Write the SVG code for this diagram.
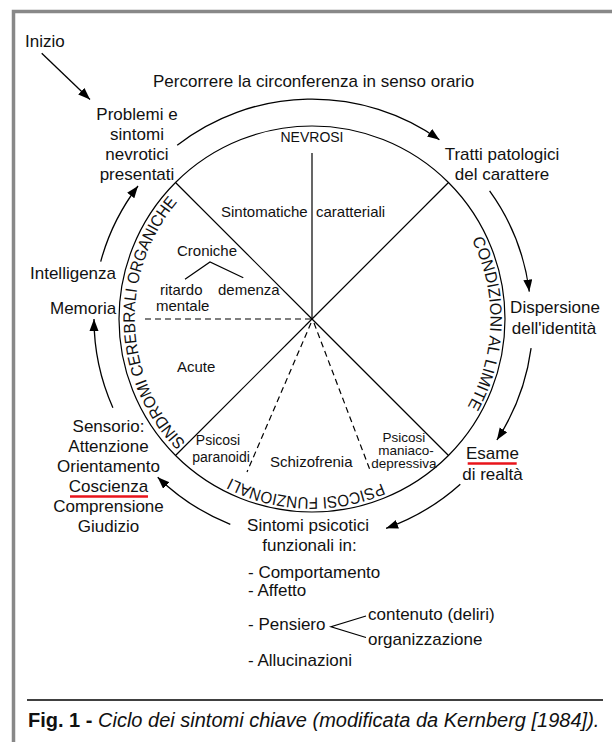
<svg xmlns="http://www.w3.org/2000/svg" width="612" height="742" viewBox="0 0 612 742">
<defs>
<style>
text { font-family: "Liberation Sans", Arial, sans-serif; fill: #111; }
.t17 { font-size: 17px; }
.t15 { font-size: 15px; }
.t14 { font-size: 14px; }
.t13 { font-size: 13.5px; }
.mid { text-anchor: middle; }
.ln { stroke: #000; stroke-width: 1.2; fill: none; }
.dash { stroke: #000; stroke-width: 1.2; fill: none; stroke-dasharray: 6 4; }
.arr { stroke: #000; stroke-width: 1.3; fill: none; marker-end: url(#ah); }
.red { stroke: #e8141b; stroke-width: 2.6; }
.arc { font-size: 16.5px; }
.cap { font-size: 20px; }
</style>
<marker id="ah" markerUnits="userSpaceOnUse" markerWidth="14" markerHeight="12" refX="12" refY="4.5" orient="auto">
<path d="M0,0 L12,4.5 L0,9 z" fill="#000"/>
</marker>
<path id="pL" d="M192.9,449.7 A178.5,178.5 0 0 1 184.1,194.8"/>
<path id="pR" d="M444.6,199.6 A178.5,178.5 0 0 1 438.2,445.2"/>
<path id="pB" d="M433.7,449.5 A178.5,178.5 0 0 1 181.4,440.7"/>
</defs>

<rect x="0" y="0" width="612" height="742" fill="#fff"/>
<path d="M13.5,742 V11.5 H612" fill="none" stroke="#888" stroke-width="3.5"/>

<g id="wheel">
<circle cx="312" cy="319" r="193" class="ln"/>
<line x1="312" y1="319" x2="312" y2="153" class="ln"/>
<line x1="312" y1="319" x2="175.5" y2="182.5" class="ln"/>
<line x1="312" y1="319" x2="448.5" y2="182.5" class="ln"/>
<line x1="312" y1="319" x2="175.5" y2="455.5" class="ln"/>
<line x1="312" y1="319" x2="448.5" y2="455.5" class="ln"/>
<line x1="145" y1="319" x2="311" y2="319" class="dash"/>
<line x1="311" y1="323" x2="247" y2="472" class="dash"/>
<line x1="314" y1="323" x2="370" y2="470" class="dash"/>
</g>

<g id="lbl-nevrosi">
<text x="312" y="141.5" class="t14 mid">NEVROSI</text>
<text x="221" y="216.5" class="t15">Sintomatiche</text>
<text x="316" y="216.5" class="t15">caratteriali</text>
</g>

<g id="lbl-sindromi">
<text class="arc"><textPath href="#pL" startOffset="50%" text-anchor="middle" textLength="264" lengthAdjust="spacingAndGlyphs">SINDROMI CEREBRALI ORGANICHE</textPath></text>
<text x="177" y="256" class="t15">Croniche</text>
<path d="M185,279.3 L210,262 L243.3,277.7" class="ln"/>
<text x="160" y="295" class="t15">ritardo</text>
<text x="156" y="311" class="t15">mentale</text>
<text x="218" y="295" class="t15">demenza</text>
<text x="177" y="371.5" class="t15">Acute</text>
</g>

<g id="lbl-limite">
<text class="arc"><textPath href="#pR" startOffset="50%" text-anchor="middle" textLength="174" lengthAdjust="spacingAndGlyphs">CONDIZIONI AL LIMITE</textPath></text>
</g>

<g id="lbl-psicosi">
<text class="arc"><textPath href="#pB" startOffset="50%" text-anchor="middle" textLength="156" lengthAdjust="spacingAndGlyphs">PSICOSI FUNZIONALI</textPath></text>
<text x="218" y="445" class="t14 mid">Psicosi</text>
<text x="221" y="461.5" class="t14 mid">paranoidi</text>
<text x="270" y="467" class="t15">Schizofrenia</text>
<text x="404" y="441.5" class="t13 mid">Psicosi</text>
<text x="406" y="455" class="t13 mid">maniaco-</text>
<text x="404" y="468.3" class="t13 mid">depressiva</text>
</g>

<g id="n-inizio">
<text x="25" y="47" class="t17">Inizio</text>
</g>

<g id="n-title">
<text x="153" y="87" class="t17">Percorrere la circonferenza in senso orario</text>
</g>

<g id="n-problemi">
<text x="137" y="120" class="t17 mid">Problemi e</text>
<text x="137" y="140" class="t17 mid">sintomi</text>
<text x="137" y="160" class="t17 mid">nevrotici</text>
<text x="137" y="180" class="t17 mid">presentati</text>
</g>

<g id="n-tratti">
<text x="502" y="160" class="t17 mid">Tratti patologici</text>
<text x="502" y="180" class="t17 mid">del carattere</text>
</g>

<g id="n-dispersione">
<text x="555" y="313" class="t17 mid">Dispersione</text>
<text x="554" y="333.5" class="t17 mid">dell'identità</text>
</g>

<g id="n-esame">
<text x="492.5" y="459" class="t17 mid">Esame</text>
<line x1="467.7" y1="463.5" x2="516.7" y2="463.5" class="red"/>
<text x="492.5" y="480" class="t17 mid">di realtà</text>
</g>

<g id="n-sintomi-psicotici">
<text x="308" y="531" class="t17 mid">Sintomi psicotici</text>
<text x="309.5" y="551" class="t17 mid">funzionali in:</text>
<text x="248" y="578" class="t17">- Comportamento</text>
<text x="248" y="595.5" class="t17">- Affetto</text>
<text x="248" y="630" class="t17">- Pensiero</text>
<path d="M366,616 L331,626.7 L366,637.5" class="ln"/>
<text x="368" y="620" class="t17">contenuto (deliri)</text>
<text x="368" y="645" class="t17">organizzazione</text>
<text x="248" y="666" class="t17">- Allucinazioni</text>
</g>

<g id="n-sensorio">
<text x="108.5" y="432" class="t17 mid">Sensorio:</text>
<text x="108.5" y="452" class="t17 mid">Attenzione</text>
<text x="108.5" y="472" class="t17 mid">Orientamento</text>
<text x="108.5" y="492" class="t17 mid">Coscienza</text>
<line x1="70" y1="496.5" x2="148" y2="496.5" class="red"/>
<text x="108.5" y="512" class="t17 mid">Comprensione</text>
<text x="108.5" y="532" class="t17 mid">Giudizio</text>
</g>

<g id="n-memoria">
<text x="50" y="314" class="t17">Memoria</text>
</g>

<g id="n-intelligenza">
<text x="30" y="279" class="t17">Intelligenza</text>
</g>

<g id="connectors">
<line x1="41.7" y1="53.3" x2="90" y2="99.5" class="arr"/>
<path d="M177.2,145.2 A220,220 0 0 1 439.4,139.7" class="arr"/>
<path d="M489.6,190.9 A219,219 0 0 1 529.3,291.6" class="arr"/>
<path d="M531.1,348.2 A221,221 0 0 1 496.9,440" class="arr"/>
<path d="M460.3,484.2 A222,222 0 0 1 386.1,528.3" class="arr"/>
<path d="M230.3,524.3 A221,221 0 0 1 157.7,477.2" class="arr"/>
<path d="M112.9,407.7 A218,218 0 0 1 94,319" class="arr"/>
<path d="M100.7,261.6 A219,219 0 0 1 138,186" class="arr"/>
</g>

<g id="caption">
<line x1="27" y1="700" x2="603" y2="700" stroke="#000" stroke-width="1.5"/>
<text x="28" y="727" class="cap"><tspan font-weight="bold">Fig. 1 -</tspan><tspan font-style="italic"> Ciclo dei sintomi chiave (modificata da Kernberg [1984]).</tspan></text>
</g>
</svg>
